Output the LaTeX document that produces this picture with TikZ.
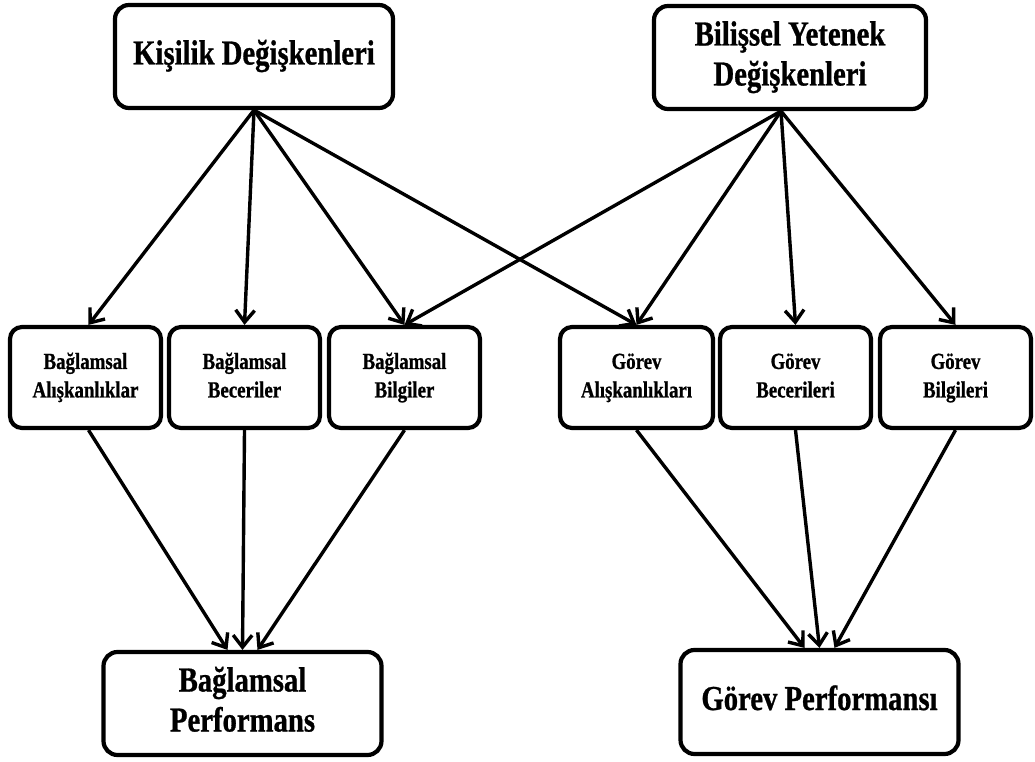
\documentclass[tikz,border=0pt]{standalone}
\usepackage{fontspec}
\setmainfont{Liberation Serif}[FakeStretch=0.82, BoldFeatures={FakeBold=0.8}]
\usetikzlibrary{arrows.meta}
\begin{document}
\begin{tikzpicture}[x=1pt,y=-1pt,
  box/.style={draw, line width=4.2pt, rounded corners=14pt, align=center,
    inner sep=0pt, font=\bfseries},
  bigbox/.style={box, minimum width=278pt, minimum height=103pt,
    font=\bfseries\fontsize{35}{40}\selectfont},
  midbox/.style={box, minimum width=151pt, minimum height=101pt,
    rounded corners=12pt, font=\bfseries\fontsize{23}{28.5}\selectfont},
  link/.style={line width=3.4pt, -{Straight Barb[length=12pt,width=19pt]}}]
\useasboundingbox (0,0) rectangle (1035,762);

% sources
\node[bigbox] (kd) at (254,56.5) {Kişilik Değişkenleri\strut};
\node[bigbox, minimum width=272pt] (bd) at (790,57.5) {Bilişsel Yetenek\strut\\Değişkenleri\strut};

% contextual and task determinants
\node[midbox] (b1) at (85.5,377.5) {Bağlamsal\strut\\Alışkanlıklar\strut};
\node[midbox] (b2) at (244.5,377.5) {Bağlamsal\strut\\Beceriler\strut};
\node[midbox] (b3) at (404.5,377.5) {Bağlamsal\strut\\Bilgiler\strut};
\node[midbox, minimum width=153pt] (g1) at (636.5,377.5) {Görev\strut\\Alışkanlıkları\strut};
\node[midbox] (g2) at (795.5,377.5) {Görev\strut\\Becerileri\strut};
\node[midbox] (g3) at (955.5,377.5) {Görev\strut\\Bilgileri\strut};

% outcomes
\node[bigbox] (bp) at (242.5,703.5) {Bağlamsal\strut\\Performans\strut};
\node[bigbox, minimum height=104pt] (gp) at (819.5,702) {Görev Performansı\strut};

% arrow anchors
\coordinate (bds) at ([xshift=-9pt]bd.south);
\coordinate (bpl) at ([xshift=-15pt]bp.north);
\coordinate (bpr) at ([xshift=15pt]bp.north);
\coordinate (gpl) at ([xshift=-15pt]gp.north);
\coordinate (gpr) at ([xshift=15pt]gp.north);
\coordinate (b1n) at ([xshift=3pt]b1.north);
\coordinate (b1s) at ([xshift=3pt]b1.south);

% personality links
\draw[link] (kd.south) -- (b1n);
\draw[link] (kd.south) -- (b2.north);
\draw[link] (kd.south) -- (b3.north);
\draw[link] (kd.south) -- (g1.north);

% cognitive ability links
\draw[link] (bds) -- (b3.north);
\draw[link] (bds) -- (g1.north);
\draw[link] (bds) -- (g2.north);
\draw[link] (bds) -- (g3.north);

% determinants to performance
\draw[link] (b1s) -- (bpl);
\draw[link] (b2.south) -- (bp.north);
\draw[link] (b3.south) -- (bpr);
\draw[link] (g1.south) -- (gpl);
\draw[link] (g2.south) -- (gp.north);
\draw[link] (g3.south) -- (gpr);
\end{tikzpicture}
\end{document}
